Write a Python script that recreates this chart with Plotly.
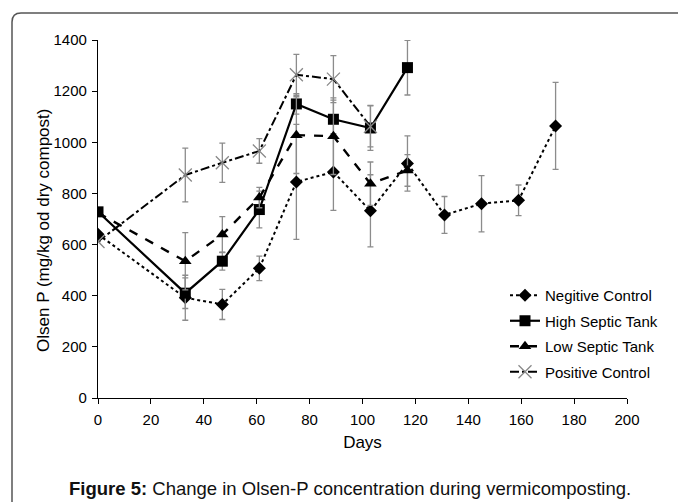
import plotly.graph_objects as go

days_neg = [0, 33, 47, 61, 75, 89, 103, 117, 131, 145, 159, 173]
neg = [640, 392, 366, 507, 845, 884, 732, 917, 716, 760, 773, 1064]
neg_err = [0, 88, 59, 48, 225, 150, 141, 108, 72, 110, 60, 170]

days_trt = [0, 33, 47, 61, 75, 89, 103, 117]
high = [728, 410, 535, 737, 1150, 1090, 1056, 1292]
high_err = [0, 60, 35, 72, 40, 75, 88, 107]
low = [724, 535, 639, 784, 1028, 1024, 838, 890]
low_err = [0, 112, 70, 40, 150, 150, 85, 62]

days_pos = [0, 33, 47, 61, 75, 89, 103]
pos = [612, 872, 920, 966, 1264, 1247, 1062]
pos_err = [0, 105, 77, 48, 80, 92, 80]

names = ["Negitive Control", "High Septic Tank", "Low Septic Tank", "Positive Control"]

ERR_COLOR = "#8c8c8c"

def eb(vals):
    return dict(type="data", array=vals, visible=True, color=ERR_COLOR, thickness=1.3, width=3)

fig = go.Figure()
fig.add_trace(go.Scatter(
    x=days_neg, y=neg, name=names[0], mode="lines+markers", error_y=eb(neg_err),
    line=dict(color="black", width=2, dash="dot"),
    marker=dict(symbol="diamond", size=10, color="black"), legendgroup="a"))
fig.add_trace(go.Scatter(
    x=days_trt, y=high, name=names[1], mode="lines+markers", error_y=eb(high_err),
    line=dict(color="black", width=2.2, dash="solid"),
    marker=dict(symbol="square", size=11, color="black"), legendgroup="b"))
fig.add_trace(go.Scatter(
    x=days_trt, y=low, name=names[2], mode="lines+markers", error_y=eb(low_err),
    line=dict(color="black", width=2.4, dash="dash"),
    marker=dict(symbol="triangle-up", size=11, color="black"), legendgroup="c"))
fig.add_trace(go.Scatter(
    x=days_pos, y=pos, name=names[3], mode="lines+markers", error_y=eb(pos_err),
    line=dict(color="black", width=2, dash="dashdot"),
    marker=dict(symbol="x-thin", size=13, color="#888888", line=dict(color="#888888", width=1.3)),
    legendgroup="d"))

L, R, T, B = 98, 51, 40, 104
W, H = 678, 502
pw, ph = W - L - R, H - T - B

def px(x):
    return (x - L) / pw

def py(y):
    return (H - B - y) / ph

# rounded frame
x0, y0, x1, y1 = px(12), py(13), px(690), py(515)
rx, ry = 9 / pw, 9 / ph
path = (f"M{x0},{y1} L{x0},{y0 - ry} Q{x0},{y0} {x0 + rx},{y0} "
        f"L{x1},{y0}")

fig.update_layout(
    width=W, height=H,
    margin=dict(l=L, r=R, t=T, b=B),
    paper_bgcolor="white", plot_bgcolor="white",
    font=dict(family="Liberation Sans, Arial, sans-serif", color="black", size=15),
    showlegend=True,
    legend=dict(x=px(505), y=py(279), xanchor="left", yanchor="top",
                font=dict(size=15, color="black"), bgcolor="rgba(0,0,0,0)",
                tracegroupgap=3, itemwidth=30),
    xaxis=dict(range=[0, 200], dtick=20, tick0=0, showline=True, linecolor="black",
               linewidth=1.3, ticks="outside", ticklen=5, tickcolor="black", showgrid=False,
               zeroline=False, tickfont=dict(size=15), ticklabelstandoff=3,
               title=dict(text="Days", font=dict(size=17), standoff=8)),
    yaxis=dict(range=[0, 1400], dtick=200, tick0=0, showline=True, linecolor="black",
               linewidth=1.3, ticks="outside", ticklen=5, tickcolor="black", showgrid=False,
               zeroline=False, tickfont=dict(size=15), ticklabelstandoff=2),
    shapes=[dict(type="path", path=path, xref="paper", yref="paper",
                 line=dict(color="#555555", width=1.5))],
    annotations=[
        dict(text="Olsen P (mg/kg od dry compost)", xref="paper", yref="paper",
             x=px(43), y=py(231), textangle=-90, showarrow=False,
             xanchor="center", yanchor="middle", font=dict(size=17, color="black")),
        dict(text="<b>Figure 5:</b> Change in Olsen-P concentration during vermicomposting.",
             xref="paper", yref="paper", x=px(350), y=py(488), showarrow=False,
             xanchor="center", yanchor="middle", font=dict(size=18.5, color="#111111"))],
)

fig.write_html("out.html")
